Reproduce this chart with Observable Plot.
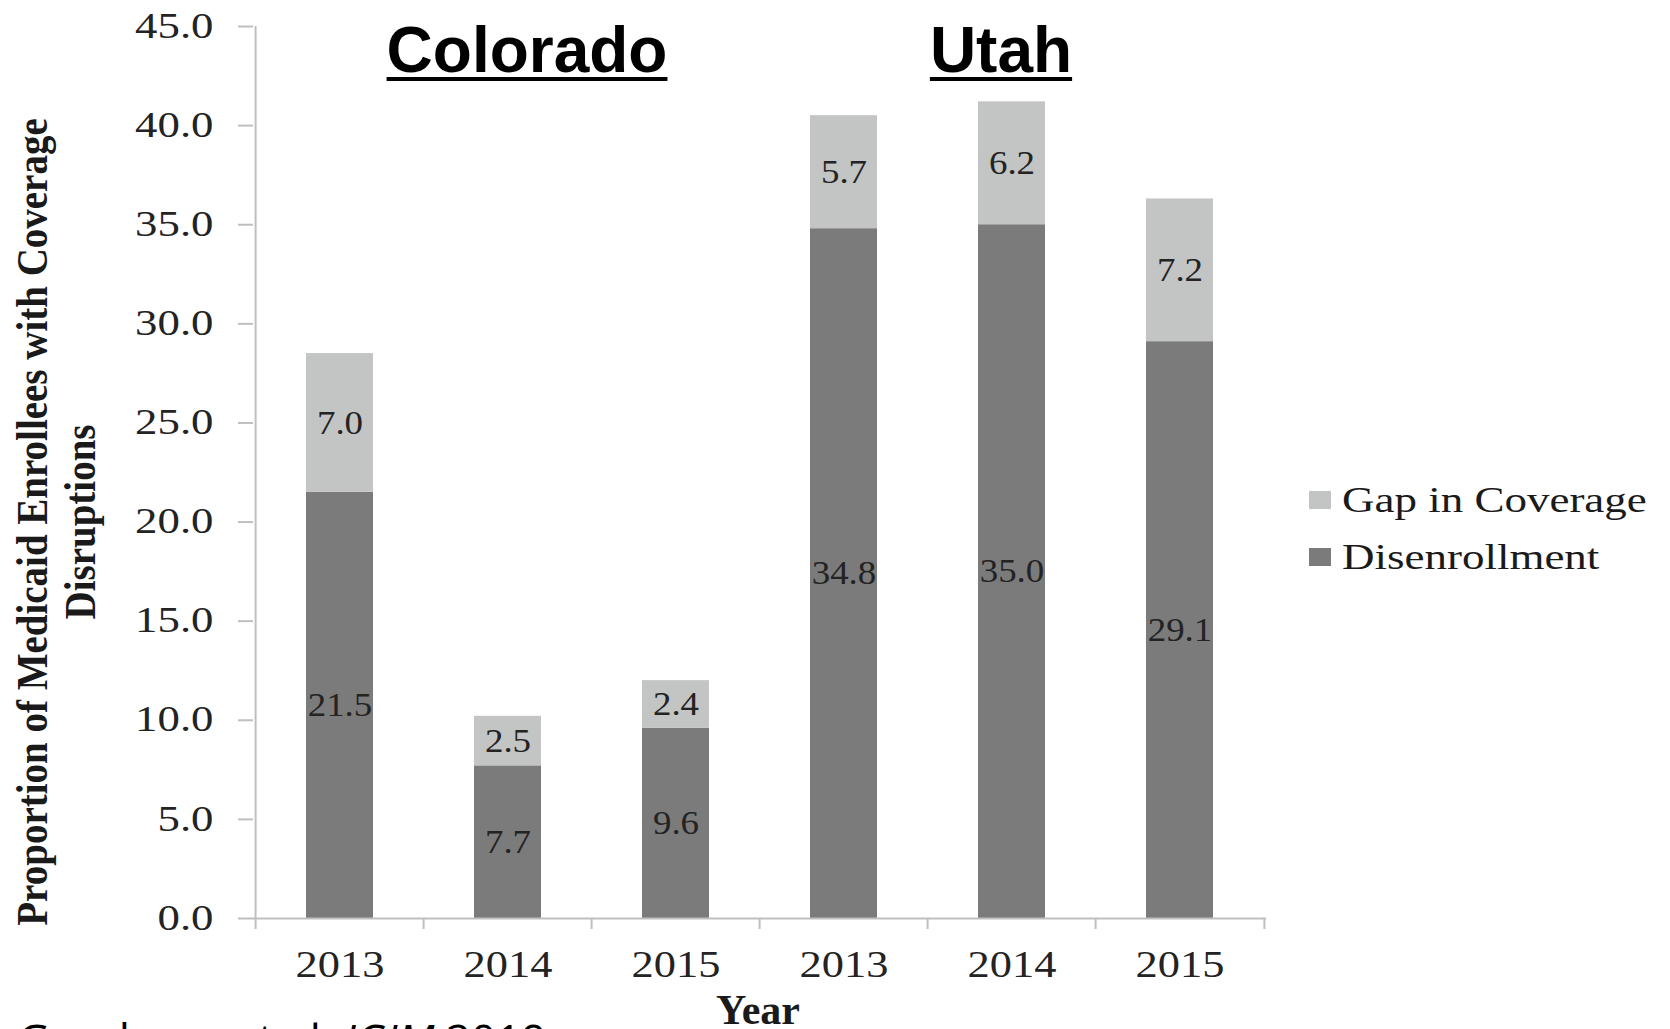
<!DOCTYPE html>
<html><head><meta charset="utf-8">
<script src="https://cdn.jsdelivr.net/npm/d3@7"></script>
<script src="https://cdn.jsdelivr.net/npm/@observablehq/plot@0.6"></script>
<style>
html,body{margin:0;padding:0;background:#fff;overflow:hidden}
#wrap{position:relative;width:1670px;height:1029px;overflow:hidden;background:#fff}
#wrap > svg{position:absolute;left:0;top:0}
</style></head>
<body><div id="wrap"></div>
<script>
// ---- data ----
const categories = ["Colorado 2013","Colorado 2014","Colorado 2015","Utah 2013","Utah 2014","Utah 2015"];
const years = ["2013","2014","2015","2013","2014","2015"];
const states = ["Colorado","Utah"];
const disenrollment = [21.5, 7.7, 9.6, 34.8, 35.0, 29.1];
const gapInCoverage = [7.0, 2.5, 2.4, 5.7, 6.2, 7.2];
const seriesNames = ["Disenrollment","Gap in Coverage"];
const seriesColors = ["#7b7b7b","#c3c4c4"];
const yTicks = [0,5,10,15,20,25,30,35,40,45];
const yLabelLines = ["Proportion of Medicaid Enrollees with Coverage","Disruptions"];
const xLabel = "Year";
const caption = ["Goodman et al. ","JGIM"," 2019"];

const rows = [];
categories.forEach((c,i)=>{
  rows.push({cat:c, series:seriesNames[0], value:disenrollment[i]});
  rows.push({cat:c, series:seriesNames[1], value:gapInCoverage[i]});
});

const W=1670, H=1029, mL=253, mR=404, mT=26, mB=111;
const step=(W-mL-mR)/categories.length;
const axisGray="#bfbfbf", ink="#232323";
const serif='"Liberation Serif","Times New Roman",serif';

const chart = Plot.plot({
  width:W, height:H, marginLeft:mL, marginRight:mR, marginTop:mT, marginBottom:mB,
  style:{fontFamily:serif, background:"transparent", color:ink, overflow:"visible"},
  x:{domain:categories, paddingInner:0.6, paddingOuter:0.3, axis:null},
  y:{domain:[0,45], axis:null},
  color:{domain:seriesNames, range:seriesColors},
  marks:[
    Plot.barY(rows, {x:"cat", y:"value", fill:"series"}),
    Plot.ruleY([0], {stroke:axisGray, strokeWidth:2}),
    Plot.ruleX([categories[0]], {y1:0, y2:45, dx:-step/2, stroke:axisGray, strokeWidth:2}),
    Plot.axisY({ticks:yTicks, tickFormat:d=>d.toFixed(1), tickSize:15, tickPadding:25, stroke:axisGray, strokeWidth:2, fill:ink, fontSize:35, label:null}),
    Plot.axisX({ticks:categories, tickSize:11, dx:-step/2, stroke:axisGray, strokeWidth:2, fill:"none", label:null}),
    Plot.axisX({ticks:[categories[categories.length-1]], tickSize:11, dx:step/2, stroke:axisGray, strokeWidth:2, fill:"none", label:null}),
    Plot.axisX({ticks:categories, tickFormat:(d)=>years[categories.indexOf(d)], tickSize:0, tickPadding:32, fill:ink, fontSize:37, label:null}),
    Plot.text(rows, Plot.stackY({x:"cat", y:"value", z:"series", text:d=>d.value.toFixed(1), fontSize:33, fill:ink}))
  ]
});
document.getElementById("wrap").appendChild(chart);

function stretch(sel, sx, sy){
  chart.querySelectorAll(sel).forEach(t=>{
    const tr=t.getAttribute("transform")||"";
    t.setAttribute("transform", tr+` scale(${sx},${sy})`);
  });
}
stretch('g[aria-label="y-axis tick label"] text', 1.28, 1);
stretch('g[aria-label="x-axis tick label"] text', 1.2, 1);
stretch('g[aria-label="text"] text', 1.12, 1);

// ---- overlay: titles, axis titles, legend, caption ----
const ov = d3.select("#wrap").append("svg").attr("width",W).attr("height",H).style("pointer-events","none");
const titleX = [527, 1001];
states.forEach((s,i)=>{
  const t = ov.append("text").attr("x",titleX[i]).attr("y",72).attr("text-anchor","middle")
    .attr("font-family",'"Liberation Sans",Arial,sans-serif').attr("font-weight","bold").attr("font-size",64).attr("fill","#000").text(s);
  const b = t.node().getBBox();
  ov.append("rect").attr("x",b.x).attr("y",77).attr("width",b.width).attr("height",4).attr("fill","#000");
});

const yl = ov.append("g").attr("transform","translate(56,522) rotate(-90) scale(1,1.12)");
yLabelLines.forEach((line,i)=>{
  yl.append("text").attr("x",0).attr("y",(i===0?-21.4:21.4)).attr("dy","0.35em").attr("text-anchor","middle")
    .attr("font-family",serif).attr("font-weight","bold").attr("font-size",39).attr("fill","#1a1a1a").text(line);
});

ov.append("text").attr("x",758).attr("y",1024).attr("text-anchor","middle")
  .attr("font-family",serif).attr("font-weight","bold").attr("font-size",42).attr("fill","#1a1a1a").text(xLabel);

const legY = [500, 557];
const legOrder = [1,0];
legOrder.forEach((k,j)=>{
  ov.append("rect").attr("x",1309).attr("y",legY[j]-9).attr("width",22).attr("height",18).attr("fill",seriesColors[k]);
  ov.append("text").attr("transform",`translate(1342,${legY[j]+12}) scale(1.25,1)`)
    .attr("font-family",serif).attr("font-size",36).attr("fill","#1a1a1a").text(seriesNames[k]);
});

const cap = ov.append("text").attr("x",18).attr("y",1056)
  .attr("font-family",'"Open Sans","Noto Sans",sans-serif').attr("font-size",44).attr("fill","#000");
cap.append("tspan").text(caption[0]);
cap.append("tspan").attr("font-style","italic").text(caption[1]);
cap.append("tspan").text(caption[2]);
</script>
</body></html>
